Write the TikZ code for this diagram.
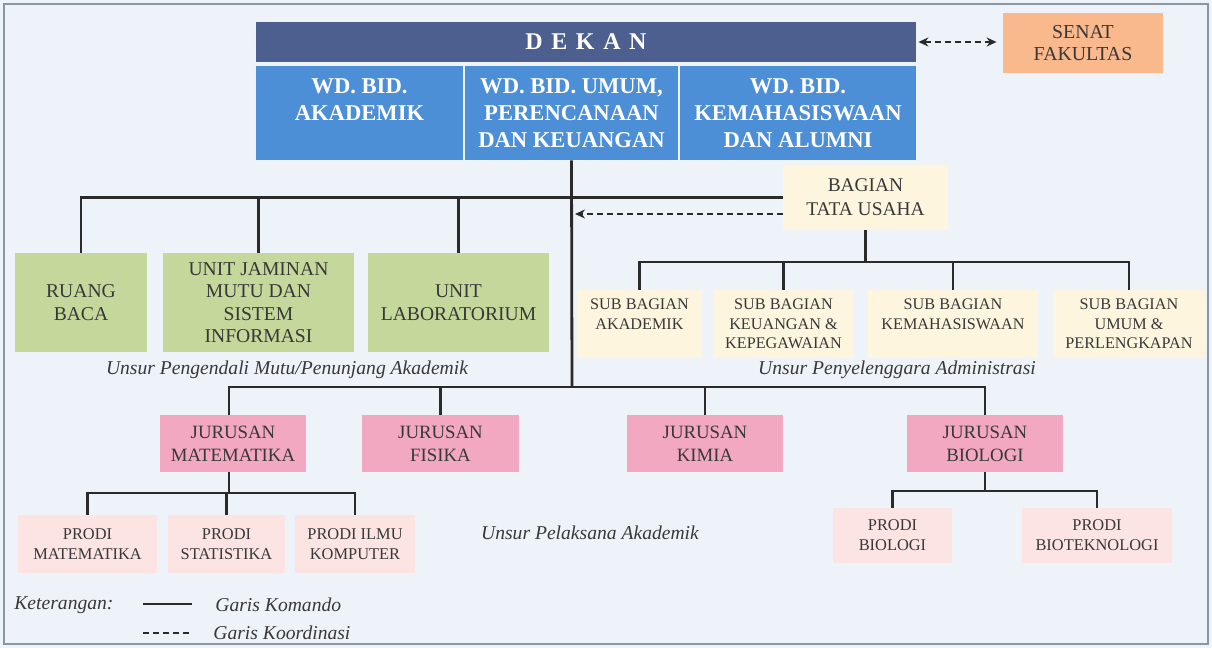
\documentclass[tikz,border=0pt]{standalone}
\usepackage{fontspec}
\setmainfont{Liberation Serif}
\usetikzlibrary{arrows.meta}
\definecolor{bgc}{HTML}{EEF3F9}
\definecolor{framec}{HTML}{8A96A3}
\definecolor{dekanc}{HTML}{4D5F8E}
\definecolor{wdc}{HTML}{4C8FD6}
\definecolor{senatc}{HTML}{F9B98C}
\definecolor{creamc}{HTML}{FDF5DD}
\definecolor{greenc}{HTML}{C5D89B}
\definecolor{jurc}{HTML}{F3A8C1}
\definecolor{prodic}{HTML}{FBE4E1}
\definecolor{txt}{HTML}{383838}
\definecolor{linec}{HTML}{2A2A2A}
\begin{document}
\begin{tikzpicture}[x=0.5pt,y=-0.5pt,
  box/.style={inner sep=0pt, align=center, text=txt},
  dekanbox/.style={box, fill=dekanc, text=white, font=\bfseries\fontsize{12}{14}\selectfont},
  wdbox/.style={box, fill=wdc, text=white, font=\bfseries\fontsize{11.3}{13.5}\selectfont},
  senatbox/.style={box, fill=senatc, font=\fontsize{9.9}{10.8}\selectfont},
  tubox/.style={box, fill=creamc, font=\fontsize{9.7}{12}\selectfont},
  subbox/.style={box, fill=creamc, font=\fontsize{8.1}{9.8}\selectfont},
  greenbox/.style={box, fill=greenc, font=\fontsize{9.8}{11.2}\selectfont},
  jurbox/.style={box, fill=jurc, font=\fontsize{9.4}{11.5}\selectfont},
  prodibox/.style={box, fill=prodic, font=\fontsize{8.2}{10}\selectfont},
  cmd/.style={draw=linec, line width=1.4pt},
  coord/.style={draw=linec, line width=1pt, dash pattern=on 3pt off 2pt},
  lbl/.style={text=txt, font=\itshape\fontsize{9.8}{11}\selectfont, inner sep=0pt},
  tip/.style={-{Stealth[length=5pt,width=4.5pt]}},
  tips/.style={{Stealth[length=5pt,width=4.5pt]}-{Stealth[length=5pt,width=4.5pt]}}
]
\useasboundingbox (0,0) rectangle (1212,648);
\fill[bgc] (0,0) rectangle (1212,648);
\draw[framec, line width=0.8pt] (4,4) rectangle (1208,644);

% top
\node[dekanbox, minimum width=330pt, minimum height=20pt] (dekan) at (586,42)
  {D\hspace{4.3pt}E\hspace{4.3pt}K\hspace{4.3pt}A\hspace{4.3pt}N};
\node[wdbox, minimum width=103.5pt, minimum height=47pt] (wd1) at (359.5,113)
  {WD. BID.\\AKADEMIK\\\mbox{}};
\node[wdbox, minimum width=106.5pt, minimum height=47pt] (wd2) at (571.5,113)
  {WD. BID. UMUM,\\PERENCANAAN\\DAN KEUANGAN};
\node[wdbox, minimum width=118pt, minimum height=47pt] (wd3) at (798,113)
  {WD. BID.\\KEMAHASISWAAN\\DAN ALUMNI};
\node[senatbox, minimum width=80pt, minimum height=30pt] (senat) at (1083,43)
  {SENAT\\FAKULTAS};

% administration
\node[tubox, minimum width=82.5pt, minimum height=32.5pt] (tu) at (865.5,197.5)
  {BAGIAN\\TATA USAHA};
\node[subbox, minimum width=62.5pt, minimum height=34pt] (sb1) at (639.5,324)
  {SUB BAGIAN\\AKADEMIK\\\mbox{}};
\node[subbox, minimum width=69.5pt, minimum height=34pt] (sb2) at (783.5,324)
  {SUB BAGIAN\\KEUANGAN \&\\KEPEGAWAIAN};
\node[subbox, minimum width=85pt, minimum height=34pt] (sb3) at (953,324)
  {SUB BAGIAN\\KEMAHASISWAAN\\\mbox{}};
\node[subbox, minimum width=76pt, minimum height=34pt] (sb4) at (1129,324)
  {SUB BAGIAN\\UMUM \&\\PERLENGKAPAN};

% support units
\node[greenbox, minimum width=66pt, minimum height=49.5pt] (ruang) at (81,302.5)
  {RUANG\\BACA};
\node[greenbox, minimum width=95.5pt, minimum height=49.5pt] (ujm) at (258.5,302.5)
  {UNIT JAMINAN\\MUTU DAN\\SISTEM\\INFORMASI};
\node[greenbox, minimum width=90.5pt, minimum height=49.5pt] (lab) at (458.5,302.5)
  {UNIT\\LABORATORIUM};

% jurusan
\node[jurbox, minimum width=73pt, minimum height=28.5pt] (jm) at (233,443.5)
  {JURUSAN\\MATEMATIKA};
\node[jurbox, minimum width=78.5pt, minimum height=28.5pt] (jf) at (440.5,443.5)
  {JURUSAN\\FISIKA};
\node[jurbox, minimum width=78pt, minimum height=28.5pt] (jk) at (705,443.5)
  {JURUSAN\\KIMIA};
\node[jurbox, minimum width=78pt, minimum height=28.5pt] (jb) at (985,443.5)
  {JURUSAN\\BIOLOGI};

% prodi
\node[prodibox, minimum width=69.5pt, minimum height=29pt] (pm) at (87.5,544)
  {PRODI\\MATEMATIKA};
\node[prodibox, minimum width=58.5pt, minimum height=29pt] (ps) at (226.5,544)
  {PRODI\\STATISTIKA};
\node[prodibox, minimum width=60pt, minimum height=29pt] (pik) at (355,544)
  {PRODI ILMU\\KOMPUTER};
\node[prodibox, minimum width=59.5pt, minimum height=27.5pt] (pb) at (892.5,535.5)
  {PRODI\\BIOLOGI};
\node[prodibox, minimum width=75pt, minimum height=27.5pt] (pbt) at (1097,535.5)
  {PRODI\\BIOTEKNOLOGI};

% labels
\node[lbl] (l1) at (287,370) {Unsur Pengendali Mutu/Penunjang Akademik};
\node[lbl] (l2) at (897,370) {Unsur Penyelenggara Administrasi};
\node[lbl] (l3) at (590,533) {Unsur Pelaksana Akademik};

% coordinates
\coordinate (b1) at (572,197);
\coordinate (b2) at (572,387);
\coordinate (dt) at (575,214);
\coordinate (sbar) at (866,262);
\coordinate (mbar) at (229,493);
\coordinate (bbar) at (985,491);

% command lines
\draw[cmd] (wd2.south) -- (b2);
\draw[cmd] (ruang.north) |- (tu.west);
\draw[cmd] (ujm.north) -- (ujm.north |- b1);
\draw[cmd] (lab.north) -- (lab.north |- b1);

\draw[cmd] (tu.south) -- (tu.south |- sbar);
\draw[cmd] (sb1.north) |- (sbar) -| (sb4.north);
\draw[cmd] (sb2.north) -- (sb2.north |- sbar);
\draw[cmd] (sb3.north) -- (sb3.north |- sbar);

\draw[cmd] (jm.north -| mbar) |- (b2) -| (jb.north);
\draw[cmd] (jf.north) -- (jf.north |- b2);
\draw[cmd] (jk.north) -- (jk.north |- b2);

\draw[cmd] (jm.south -| mbar) -- (mbar);
\draw[cmd] (pm.north) |- (mbar) -| (pik.north);
\draw[cmd] (ps.north) -- (ps.north |- mbar);

\draw[cmd] (jb.south) -- (bbar);
\draw[cmd] (pb.north) |- (bbar) -| (pbt.north);

% coordination lines
\draw[coord, tips] (dekan.east) ++(2,0) -- ([xshift=-3pt]senat.west |- dekan.east);
\draw[coord, tip] (tu.west |- dt) -- (dt);

% legend
\node[lbl, anchor=west] (ket) at (14,605) {Keterangan:};
\coordinate (ls1) at (143,604);
\coordinate (le1) at (192,604);
\coordinate (ls2) at (143,633);
\coordinate (le2) at (192,633);
\draw[cmd] (ls1) -- (le1);
\draw[coord] (ls2) -- (le2);
\node[lbl, anchor=west] (gk) at (215,605) {Garis Komando};
\node[lbl, anchor=west] (gko) at (213,633) {Garis Koordinasi};
\end{tikzpicture}
\end{document}
